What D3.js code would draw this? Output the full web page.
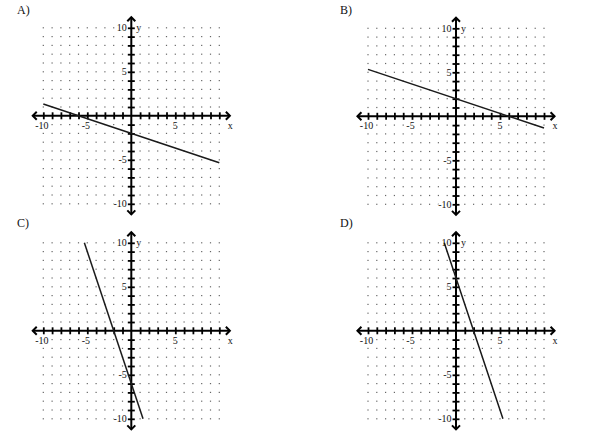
<!DOCTYPE html>
<html>
<head>
<meta charset="utf-8">
<script src="https://cdn.jsdelivr.net/npm/d3@7"></script>
<style>
  body { margin: 0; background: #fff; }
  svg text { font-family: "Liberation Serif", "DejaVu Serif", serif; fill: #111; }
  .lbl { paint-order: stroke; stroke: #fff; stroke-width: 1.5px; }
</style>
</head>
<body>
<svg id="chart"></svg>
<script>
  // four answer choices, each a line drawn on the same -10..10 grid
  var panelNames = ["A)", "B)", "C)", "D)"];
  var lineStartX = [-10, -10, -16 / 3, -4 / 3];
  var lineStartY = [4 / 3, 16 / 3, 10, 10];
  var lineEndX = [10, 10, 4 / 3, 16 / 3];
  var lineEndY = [-16 / 3, -4 / 3, -10, -10];

  var gridValues = d3.range(-10, 11);
  var xTickLabels = [-10, -5, 5];
  var yTickLabels = [10, 5, -5, -10];

  var W = 600, H = 433;
  var unit = 8.8;
  // origin of each panel on the page
  var originX = [131.3, 456, 131.3, 456];
  var originY = [115.8, 116.3, 330.8, 330.8];
  var labelX = [17, 340, 17, 340];
  var labelY = [14, 14, 227, 227];

  var svg = d3.select("#chart").attr("width", W).attr("height", H);

  panelNames.forEach(function(name, i) {
    var ox = originX[i], oy = originY[i];
    var x = d3.scaleLinear().domain([-10, 10]).range([ox - 10 * unit, ox + 10 * unit]);
    var y = d3.scaleLinear().domain([-10, 10]).range([oy + 10 * unit, oy - 10 * unit]);

    var g = svg.append("g");

    g.append("text")
      .attr("x", labelX[i]).attr("y", labelY[i])
      .attr("font-size", 12)
      .text(name);

    // dotted grid, skip the axes
    var pts = [];
    gridValues.forEach(function(a) {
      gridValues.forEach(function(b) {
        if (a !== 0 && b !== 0) pts.push([a, b]);
      });
    });
    g.selectAll("rect.dot").data(pts).enter()
      .append("rect")
      .attr("class", "dot")
      .attr("x", function(d) { return x(d[0]) - 0.6; })
      .attr("y", function(d) { return y(d[1]) - 0.6; })
      .attr("width", 1.2).attr("height", 1.2)
      .attr("fill", "#666");

    // x axis with crossbar ticks
    var xAxis = g.append("g")
      .attr("transform", "translate(0," + oy + ")")
      .call(d3.axisBottom(x).tickValues(gridValues.filter(function(v) { return v !== 0; }))
        .tickSize(6).tickFormat(""));
    xAxis.select(".domain").remove();
    xAxis.selectAll(".tick line").attr("y1", -3.5).attr("y2", 3.5)
      .attr("stroke", "#000").attr("stroke-width", 1.8);

    var yAxis = g.append("g")
      .attr("transform", "translate(" + ox + ",0)")
      .call(d3.axisLeft(y).tickValues(gridValues.filter(function(v) { return v !== 0; }))
        .tickSize(6).tickFormat(""));
    yAxis.select(".domain").remove();
    yAxis.selectAll(".tick line").attr("x1", -3.5).attr("x2", 3.5)
      .attr("stroke", "#000").attr("stroke-width", 1.8);

    var ext = 11.2;
    g.append("line")
      .attr("x1", x(-ext)).attr("x2", x(ext)).attr("y1", oy).attr("y2", oy)
      .attr("stroke", "#000").attr("stroke-width", 2);
    g.append("line")
      .attr("x1", ox).attr("x2", ox).attr("y1", y(ext)).attr("y2", y(-ext))
      .attr("stroke", "#000").attr("stroke-width", 2);

    // arrow heads
    var a = 4;
    var heads = [
      [[x(-ext) + a, oy - a], [x(-ext), oy], [x(-ext) + a, oy + a]],
      [[x(ext) - a, oy - a], [x(ext), oy], [x(ext) - a, oy + a]],
      [[ox - a, y(ext) + a], [ox, y(ext)], [ox + a, y(ext) + a]],
      [[ox - a, y(-ext) - a], [ox, y(-ext)], [ox + a, y(-ext) - a]]
    ];
    g.selectAll("path.head").data(heads).enter()
      .append("path")
      .attr("class", "head")
      .attr("d", d3.line())
      .attr("fill", "none")
      .attr("stroke", "#000")
      .attr("stroke-width", 2);

    // tick labels
    g.selectAll("text.xl").data(xTickLabels).enter()
      .append("text")
      .attr("class", "xl lbl")
      .attr("x", function(d) { return x(d) - (d < 0 ? 1.5 : 0); })
      .attr("y", oy + 13)
      .attr("text-anchor", "middle")
      .attr("font-size", 10)
      .text(function(d) { return d; });
    g.append("text")
      .attr("class", "lbl")
      .attr("x", x(ext) - 2).attr("y", oy + 13)
      .attr("font-size", 10)
      .text("x");

    g.selectAll("text.yl").data(yTickLabels).enter()
      .append("text")
      .attr("class", "yl lbl")
      .attr("x", ox - 4.5)
      .attr("y", function(d) { return y(d) + 3.5; })
      .attr("text-anchor", "end")
      .attr("font-size", 10)
      .text(function(d) { return d; });
    g.append("text")
      .attr("class", "lbl")
      .attr("x", ox + 5).attr("y", y(10) + 3.5)
      .attr("font-size", 10)
      .text("y");

    // the answer line
    g.append("line")
      .attr("x1", x(lineStartX[i])).attr("y1", y(lineStartY[i]))
      .attr("x2", x(lineEndX[i])).attr("y2", y(lineEndY[i]))
      .attr("stroke", "#1a1a1a").attr("stroke-width", 1.5);
  });
</script>
</body>
</html>
